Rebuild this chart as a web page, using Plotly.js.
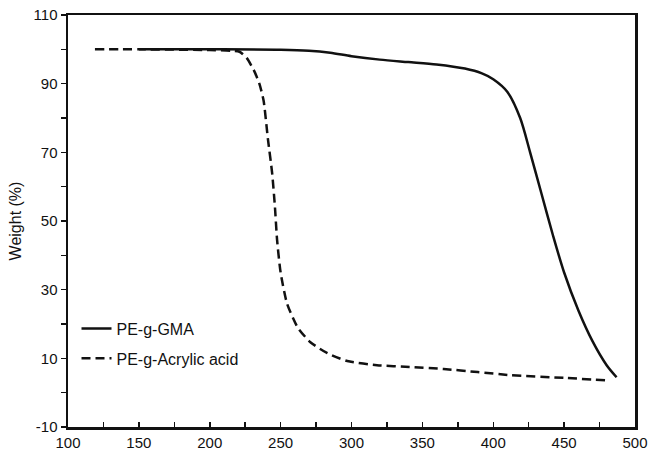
<!DOCTYPE html>
<html>
<head>
<script src="https://cdn.plot.ly/plotly-3.0.1.min.js"></script>
<style>html,body{margin:0;padding:0;background:#fff;}#chart{width:649px;height:449px;}</style>
</head>
<body>
<div id="chart"></div>
<script>
// PE-g-GMA (solid)
const gmaTemp   = [150, 200, 250, 270, 285, 300, 320, 340, 360, 380, 392, 400, 410, 419, 426, 434, 442, 450, 460, 470, 480, 487];
const gmaWeight = [100, 100, 99.9, 99.6, 99.0, 98.0, 97.0, 96.3, 95.6, 94.4, 93.0, 91.3, 87.6, 80, 70, 58, 46, 35, 24, 15, 8, 4.5];
// PE-g-Acrylic acid (dashed)
const aaTemp   = [119, 150, 200, 215, 221, 226, 231, 235, 238, 241, 244, 246, 247.5, 250, 254.5, 262, 271, 283, 297, 318, 341, 365, 389, 412, 450, 480];
const aaWeight = [100, 100, 99.8, 99.6, 99.3, 97.5, 94, 90, 85, 74, 64, 54, 44.5, 35, 26, 19, 14.7, 11.5, 9.2, 8, 7.5, 6.9, 6, 5.1, 4.3, 3.6];
const xTicks = [100, 150, 200, 250, 300, 350, 400, 450, 500];
const yTicks = [110, 90, 70, 50, 30, 10, -10];

const traces = [
  {x: gmaTemp, y: gmaWeight, name: 'PE-g-GMA', legendgroup: 'a', mode: 'lines', line: {color: '#111', width: 2.5, shape: 'spline', smoothing: 0.8}},
  {x: aaTemp, y: aaWeight, name: 'PE-g-Acrylic acid', legendgroup: 'b', mode: 'lines', line: {color: '#111', width: 2.5, dash: '9px,5px', shape: 'spline', smoothing: 0.6}}
];
const font = {family: 'Liberation Sans, Arial, sans-serif', size: 15, color: '#111'};
const layout = {
  width: 649, height: 449,
  margin: {l: 68, r: 14, t: 15, b: 22},
  paper_bgcolor: '#fff', plot_bgcolor: '#fff',
  font: font,
  showlegend: true,
  legend: {x: 0.015, y: 0.28, xanchor: 'left', yanchor: 'top', bgcolor: 'rgba(0,0,0,0)', font: {family: font.family, size: 16, color: '#111'}, itemwidth: 30, tracegroupgap: 6},
  xaxis: {
    range: [100, 500], tickvals: xTicks, ticktext: xTicks.map(String),
    showgrid: false, zeroline: false, showline: true, linecolor: '#111', linewidth: 2.5, mirror: true,
    ticks: 'inside', ticklen: 5, tickwidth: 1.5, tickcolor: '#111',
    minor: {dtick: 25, tick0: 100, ticks: 'inside', ticklen: 5, tickwidth: 1.5, tickcolor: '#111', showgrid: false},
    tickfont: font
  },
  yaxis: {
    range: [-10, 110], tickvals: yTicks, ticktext: yTicks.map(String),
    showgrid: false, zeroline: false, showline: true, linecolor: '#111', linewidth: 2.5, mirror: true,
    ticks: 'outside', ticklen: 5, tickwidth: 1.5, tickcolor: '#111',
    minor: {dtick: 10, tick0: -10, ticks: 'outside', ticklen: 5, tickwidth: 1.5, tickcolor: '#111', showgrid: false},
    tickfont: font,
    title: {text: 'Weight (%)', font: {family: font.family, size: 16, color: '#111'}, standoff: 8}
  }
};
Plotly.newPlot('chart', traces, layout, {staticPlot: true, displayModeBar: false});
</script>
</body>
</html>
